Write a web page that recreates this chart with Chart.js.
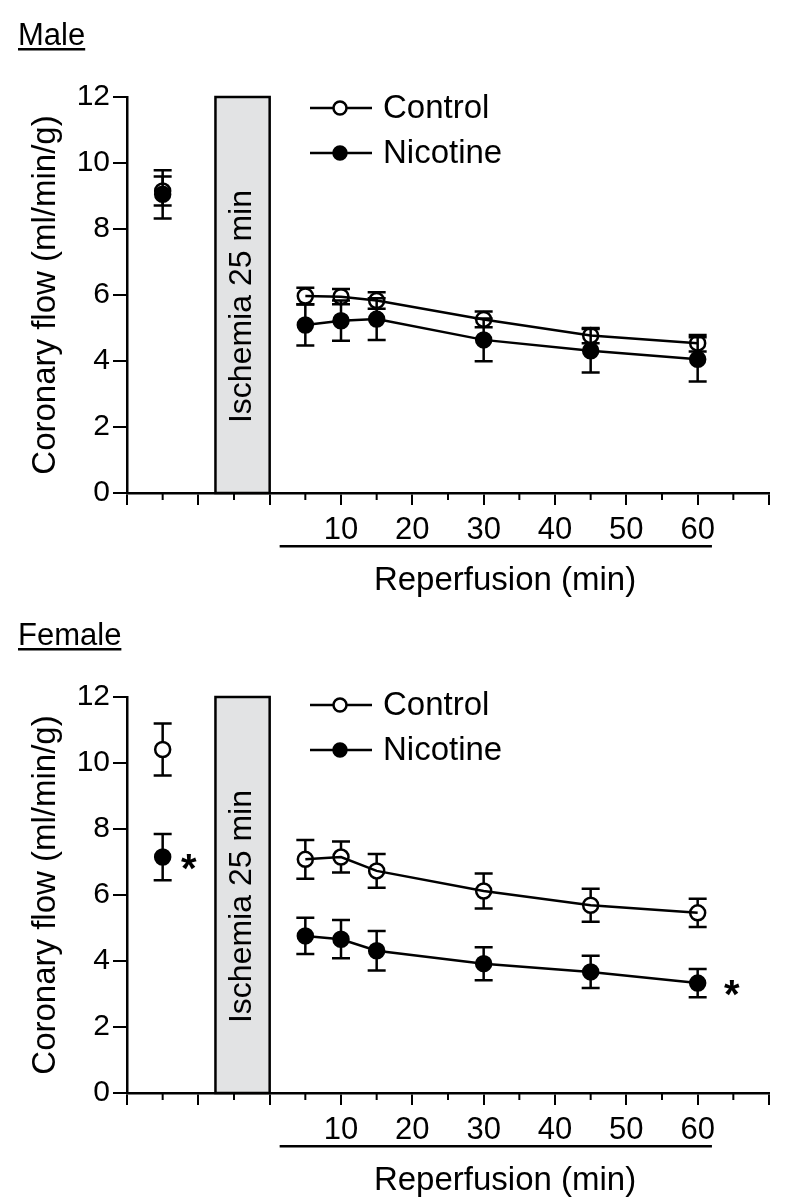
<!DOCTYPE html>
<html>
<head>
<meta charset="utf-8">
<script src="https://cdn.jsdelivr.net/npm/chart.js@4"></script>
<style>
body { margin: 0; background: #fff; }
.panel { position: absolute; left: 0; width: 789px; height: 600px; }
</style>
</head>
<body>
<div class="panel" style="top:0"><canvas id="maleChart"></canvas></div>
<div class="panel" style="top:600px"><canvas id="femaleChart"></canvas></div>
<script>
// time points in min; first one (-15) is the pre-ischemia baseline
const times = [-15, 5, 10, 15, 30, 45, 60];
const ischemiaStart = -7.6;
const xTickLabels = [10, 20, 30, 40, 50, 60];
const yTicks = [0, 2, 4, 6, 8, 10, 12];

const maleControl = [9.15, 5.97, 5.95, 5.83, 5.26, 4.77, 4.54];
const maleControlSem = [0.44, 0.25, 0.23, 0.25, 0.24, 0.23, 0.25];
const maleNicotine = [9.05, 5.09, 5.22, 5.27, 4.64, 4.31, 4.05];
const maleNicotineSem = [0.73, 0.62, 0.61, 0.63, 0.65, 0.66, 0.67];

const femaleControl = [10.41, 7.08, 7.15, 6.73, 6.12, 5.69, 5.46];
const femaleControlSem = [0.79, 0.59, 0.47, 0.51, 0.53, 0.50, 0.43];
const femaleNicotine = [7.15, 4.76, 4.66, 4.31, 3.92, 3.67, 3.33];
const femaleNicotineSem = [0.70, 0.55, 0.58, 0.60, 0.50, 0.49, 0.43];

const FONT = "'Liberation Sans', Arial, Helvetica, sans-serif";

function series(label, vals, sem, filled) {
    return {
        label: label,
        data: times.map((t, i) => ({x: t, y: vals[i]})),
        sem: sem,
        borderColor: '#000',
        borderWidth: 2.5,
        pointRadius: 7.5,
        pointHoverRadius: 7.5,
        pointBorderWidth: 2.5,
        pointBorderColor: '#000',
        pointBackgroundColor: filled ? '#000' : 'rgba(255,255,255,0)',
        fill: false,
        tension: 0,
        clip: false,
        // no line between baseline and reperfusion
        segment: { borderColor: ctx => ctx.p0DataIndex === 0 ? 'rgba(0,0,0,0)' : '#000' }
    };
}

const figurePlugin = {
    id: 'figure',
    beforeDatasetsDraw(chart) {
        const ctx = chart.ctx;
        const x = chart.scales.x, y = chart.scales.y;

        // ischemia box
        const x0 = x.getPixelForValue(ischemiaStart), x1 = x.getPixelForValue(0);
        const yTop = y.getPixelForValue(12), yBot = y.getPixelForValue(0);
        ctx.save();
        ctx.fillStyle = '#e2e3e4';
        ctx.fillRect(x0, yTop, x1 - x0, yBot - yTop);
        ctx.strokeStyle = '#000';
        ctx.lineWidth = 2.5;
        ctx.strokeRect(x0, yTop, x1 - x0, yBot - yTop);
        ctx.translate((x0 + x1) / 2, y.getPixelForValue(5.65));
        ctx.rotate(-Math.PI / 2);
        ctx.font = '32px ' + FONT;
        ctx.fillStyle = '#000';
        ctx.textAlign = 'center';
        ctx.textBaseline = 'middle';
        ctx.fillText('Ischemia 25 min', 0, 0);
        ctx.restore();

        // error bars (stop at the marker edge)
        ctx.save();
        ctx.strokeStyle = '#000';
        ctx.lineWidth = 2.5;
        chart.data.datasets.forEach(ds => {
            ds.data.forEach((p, j) => {
                const e = ds.sem[j];
                const px = x.getPixelForValue(p.x);
                const py = y.getPixelForValue(p.y);
                const top = y.getPixelForValue(p.y + e);
                const bot = y.getPixelForValue(p.y - e);
                ctx.beginPath();
                if (py - top > 7) { ctx.moveTo(px, top); ctx.lineTo(px, py - 7); }
                if (bot - py > 7) { ctx.moveTo(px, py + 7); ctx.lineTo(px, bot); }
                ctx.moveTo(px - 9, top); ctx.lineTo(px + 9, top);
                ctx.moveTo(px - 9, bot); ctx.lineTo(px + 9, bot);
                ctx.stroke();
            });
        });
        ctx.restore();
    },
    afterDraw(chart, args, opts) {
        const ctx = chart.ctx;
        const x = chart.scales.x, y = chart.scales.y;
        const area = chart.chartArea;
        ctx.save();
        ctx.strokeStyle = '#000';
        ctx.fillStyle = '#000';
        ctx.lineWidth = 2;

        // minor ticks every 5 min
        ctx.beginPath();
        for (let v = -15; v <= 65; v += 10) {
            const px = x.getPixelForValue(v);
            ctx.moveTo(px, area.bottom);
            ctx.lineTo(px, area.bottom + 7);
        }
        ctx.stroke();

        // panel title, underlined
        ctx.font = '31px ' + FONT;
        ctx.textAlign = 'left';
        ctx.textBaseline = 'alphabetic';
        ctx.fillText(opts.title, 18, 45);
        const tw = ctx.measureText(opts.title).width;
        ctx.fillRect(18, 48, tw, 2.5);

        // reperfusion bracket + label
        const ux0 = x.getPixelForValue(1.4), ux1 = x.getPixelForValue(62);
        ctx.fillRect(ux0, area.bottom + 52, ux1 - ux0, 2.5);
        ctx.font = '33px ' + FONT;
        ctx.textAlign = 'center';
        ctx.fillText('Reperfusion (min)', x.getPixelForValue(33), area.bottom + 97);

        // legend
        ctx.lineWidth = 2.5;
        const items = [['Control', false], ['Nicotine', true]];
        items.forEach((it, k) => {
            const ly = area.top + opts.legendTop + k * 45;
            ctx.beginPath();
            ctx.moveTo(310, ly);
            ctx.lineTo(372, ly);
            ctx.stroke();
            ctx.beginPath();
            ctx.arc(340, ly, 6.5, 0, Math.PI * 2);
            if (it[1]) { ctx.fill(); } else { ctx.fillStyle = '#fff'; ctx.fill(); ctx.fillStyle = '#000'; }
            ctx.stroke();
            ctx.font = '33px ' + FONT;
            ctx.textAlign = 'left';
            ctx.textBaseline = 'middle';
            ctx.fillText(it[0], 383, ly + 1);
        });

        // significance marks
        ctx.font = 'bold 40px ' + FONT;
        ctx.textAlign = 'center';
        ctx.textBaseline = 'alphabetic';
        (opts.stars || []).forEach(s => {
            const p = chart.data.datasets[s.ds].data[s.i];
            ctx.fillText('*', x.getPixelForValue(p.x) + s.dx, y.getPixelForValue(p.y) + 25);
        });
        ctx.restore();
    }
};

function makeChart(id, title, control, controlSem, nicotine, nicotineSem, legendTop, stars) {
    return new Chart(document.getElementById(id).getContext('2d'), {
        type: 'line',
        data: {
            datasets: [
                series('Nicotine', nicotine, nicotineSem, true),
                series('Control', control, controlSem, false)
            ]
        },
        options: {
            responsive: true,
            maintainAspectRatio: false,
            animation: false,
            layout: { padding: { top: 97, right: 20, left: 0, bottom: 0 } },
            plugins: {
                legend: { display: false },
                tooltip: { enabled: false },
                figure: { title: title, legendTop: legendTop, stars: stars }
            },
            scales: {
                x: {
                    type: 'linear',
                    min: -20,
                    max: 70,
                    afterFit: s => { s.height = 107; },
                    border: { color: '#000', width: 2.5 },
                    grid: { drawOnChartArea: false, tickLength: 12, lineWidth: 2, tickWidth: 2, tickColor: '#000' },
                    ticks: {
                        stepSize: 10,
                        autoSkip: false,
                        maxRotation: 0,
                        padding: 7,
                        color: '#000',
                        font: { family: FONT, size: 31 },
                        callback: v => xTickLabels.includes(v) ? String(v) : ''
                    }
                },
                y: {
                    min: 0,
                    max: 12,
                    afterFit: s => { s.width = 127; },
                    afterBuildTicks: s => { s.ticks = yTicks.map(v => ({value: v})); },
                    border: { color: '#000', width: 2.5 },
                    grid: { drawOnChartArea: false, tickLength: 14, lineWidth: 2, tickWidth: 2, tickColor: '#000' },
                    ticks: { padding: 3, color: '#000', font: { family: FONT, size: 30 } },
                    title: {
                        display: true,
                        text: 'Coronary flow (ml/min/g)',
                        color: '#000',
                        font: { family: FONT, size: 33 },
                        padding: { top: 26, bottom: 0 }
                    }
                }
            }
        },
        plugins: [figurePlugin]
    });
}

makeChart('maleChart', 'Male', maleControl, maleControlSem, maleNicotine, maleNicotineSem, 11, []);
makeChart('femaleChart', 'Female', femaleControl, femaleControlSem, femaleNicotine, femaleNicotineSem, 8,
    [{ds: 0, i: 0, dx: 26}, {ds: 0, i: 6, dx: 34}]);
</script>
</body>
</html>
